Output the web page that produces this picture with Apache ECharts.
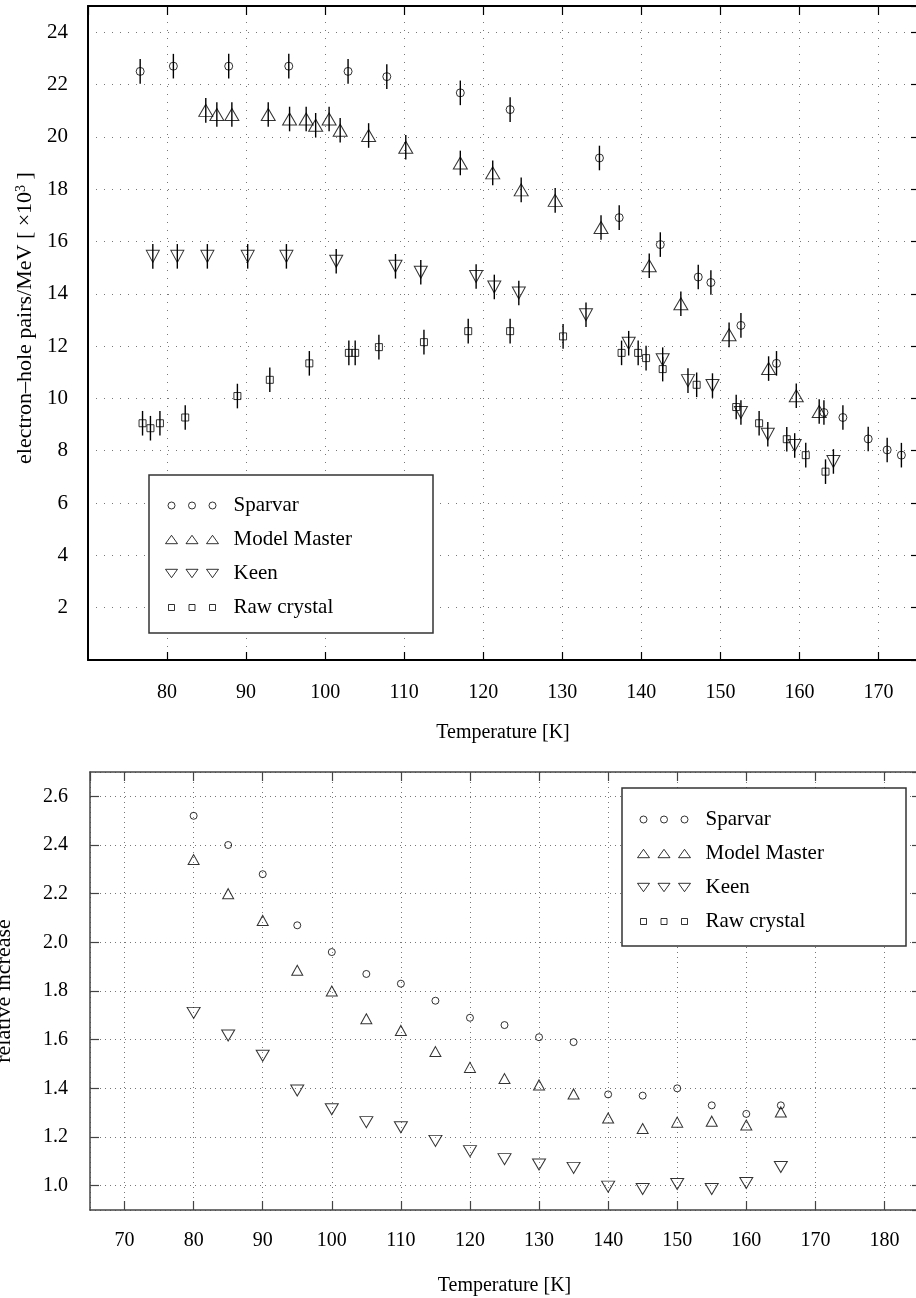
<!DOCTYPE html>
<html>
<head>
<meta charset="utf-8">
<script src="https://cdn.jsdelivr.net/npm/echarts@6/dist/echarts.min.js"></script>
<style>
html, body { margin: 0; padding: 0; background: #fff; }
#chart { width: 916px; height: 1298px; }
</style>
</head>
<body>
<div id="chart"></div>
<script>
// ---------------- DATA ----------------
// Top panel: electron-hole pairs / MeV [x10^3] versus temperature [K]
const sparvarT = [76.6, 80.8, 87.8, 95.4, 102.9, 107.8, 117.1, 123.4, 134.7, 137.2, 142.4, 147.2, 148.8, 152.6, 157.1, 163.1, 165.5, 168.7, 171.1, 172.9];
const sparvarY = [22.5, 22.7, 22.7, 22.7, 22.5, 22.3, 21.68, 21.04, 19.19, 16.91, 15.88, 14.64, 14.43, 12.79, 11.34, 9.46, 9.27, 8.45, 8.03, 7.83];

const modelT = [84.9, 86.3, 88.2, 92.8, 95.5, 97.6, 98.8, 100.5, 101.9, 105.5, 110.2, 117.1, 121.2, 124.8, 129.1, 134.9, 141.0, 145.0, 151.1, 156.1, 159.6, 162.5];
const modelY = [21.01, 20.85, 20.85, 20.85, 20.68, 20.68, 20.44, 20.68, 20.25, 20.05, 19.6, 19.0, 18.62, 17.97, 17.57, 16.53, 15.07, 13.62, 12.43, 11.14, 10.1, 9.5];

const keenT = [78.2, 81.3, 85.1, 90.2, 95.1, 101.4, 108.9, 112.1, 119.1, 121.4, 124.5, 133.0, 138.4, 142.7, 145.9, 149.0, 152.6, 156.0, 159.4, 164.3];
const keenY = [15.43, 15.43, 15.43, 15.43, 15.43, 15.24, 15.05, 14.82, 14.66, 14.26, 14.03, 13.2, 12.11, 11.48, 10.68, 10.49, 9.46, 8.63, 8.2, 7.59];

const rawT = [76.9, 77.9, 79.1, 82.3, 88.9, 93.0, 98.0, 103.0, 103.8, 106.8, 112.5, 118.1, 123.4, 130.1, 137.5, 139.6, 140.6, 142.7, 147.0, 152.0, 154.9, 158.4, 160.8, 163.3];
const rawY = [9.05, 8.86, 9.05, 9.27, 10.09, 10.71, 11.34, 11.74, 11.74, 11.96, 12.15, 12.57, 12.57, 12.37, 11.74, 11.74, 11.54, 11.12, 10.52, 9.67, 9.05, 8.44, 7.83, 7.2];

// half length of the vertical error bars (x10^3 pairs/MeV)
const errHalf = 0.47;

// Bottom panel: relative increase versus temperature [K]
const relT = [80, 85, 90, 95, 100, 105, 110, 115, 120, 125, 130, 135, 140, 145, 150, 155, 160, 165];
const sparvarRel = [2.52, 2.40, 2.28, 2.07, 1.96, 1.87, 1.83, 1.76, 1.69, 1.66, 1.61, 1.59, 1.375, 1.37, 1.40, 1.33, 1.295, 1.33];
const modelRel = [2.34, 2.20, 2.09, 1.885, 1.80, 1.686, 1.638, 1.551, 1.486, 1.44, 1.414, 1.377, 1.278, 1.235, 1.261, 1.265, 1.249, 1.303];
const keenRel = [1.71, 1.617, 1.534, 1.391, 1.314, 1.261, 1.24, 1.184, 1.142, 1.109, 1.087, 1.073, 0.996, 0.986, 1.007, 0.986, 1.011, 1.077];

const seriesNames = ['Sparvar', 'Model Master', 'Keen', 'Raw crystal'];

// ---------------- CHART ----------------
const FONT = 'Liberation Serif';
const chart = echarts.init(document.getElementById('chart'), null, { renderer: 'canvas' });

function pairs(xs, ys) { return xs.map((x, i) => [x, ys[i]]); }

function errorBars(name, xs, ys) {
  return {
    type: 'custom', name: name, xAxisIndex: 0, yAxisIndex: 0, silent: true, z: 1,
    encode: { x: 0, y: 1 },
    data: xs.map((x, i) => [x, ys[i], errHalf]),
    renderItem: function (params, api) {
      const x = api.value(0), y = api.value(1), d = api.value(2);
      const a = api.coord([x, y - d]);
      const b = api.coord([x, y + d]);
      return { type: 'line', shape: { x1: a[0], y1: a[1], x2: b[0], y2: b[1] },
               style: { stroke: '#000', lineWidth: 1.4 } };
    }
  };
}

const hollow = { color: 'rgba(0,0,0,0)', borderColor: '#000', borderWidth: 1 };

// legend icons: three symbols in a 55 x 10 box
const cxs = [7, 27.5, 48];
const box = 'M0,0M55,10';
const legendIcons = {
  'Sparvar': 'path://' + box + cxs.map(c => `M${c - 3.5},5a3.5,3.5 0 1,0 7,0a3.5,3.5 0 1,0 -7,0Z`).join(''),
  'Model Master': 'path://' + box + cxs.map(c => `M${c},0.8L${c + 6},9.2L${c - 6},9.2Z`).join(''),
  'Keen': 'path://' + box + cxs.map(c => `M${c - 6},0.8L${c + 6},0.8L${c},9.2Z`).join(''),
  'Raw crystal': 'path://' + box + cxs.map(c => `M${c - 3},2L${c + 3},2L${c + 3},8L${c - 3},8Z`).join('')
};

function legendAt(left, top) {
  return {
    orient: 'vertical', left: left, top: top, padding: 0, itemGap: 13,
    itemWidth: 55, itemHeight: 10, selectedMode: false, z: 6,
    data: seriesNames.map(n => ({ name: n, icon: legendIcons[n] })),
    itemStyle: { color: 'rgba(0,0,0,0)', borderColor: '#000', borderWidth: 1 },
    textStyle: { fontFamily: FONT, fontSize: 21, color: '#000', padding: [0, 0, 0, 9] }
  };
}

const dottedTop = { color: '#777', width: 1, type: [1, 7] };
const dottedBot = { color: '#777', width: 1, type: [1, 4] };

const option = {
  animation: false,
  backgroundColor: '#fff',
  textStyle: { fontFamily: FONT },
  grid: [
    { left: 88, top: 6, right: -2, height: 654, containLabel: false, outerBoundsMode: 'none' },
    { left: 90, top: 772, right: -3, height: 438, containLabel: false, outerBoundsMode: 'none' }
  ],
  xAxis: [
    { gridIndex: 0, type: 'value', min: 70, max: 175, interval: 10,
      axisLine: { onZero: false, lineStyle: { color: '#000', width: 2 } },
      axisTick: { inside: true, length: 8, lineStyle: { color: '#000', width: 1.2 } },
      axisLabel: { fontFamily: FONT, fontSize: 20, color: '#000', margin: 23, showMinLabel: false, showMaxLabel: false },
      splitLine: { show: true, lineStyle: dottedTop },
      name: 'Temperature [K]', nameLocation: 'middle', nameGap: 63,
      nameTextStyle: { fontFamily: FONT, fontSize: 20, color: '#000' } },
    { gridIndex: 0, type: 'value', position: 'top', min: 70, max: 175, interval: 10,
      axisLine: { onZero: false, lineStyle: { color: '#000', width: 2 } },
      axisTick: { inside: true, length: 9, lineStyle: { color: '#000', width: 1.2 } },
      axisLabel: { show: false }, splitLine: { show: false } },
    { gridIndex: 1, type: 'value', min: 65, max: 185, minInterval: 10, maxInterval: 10,
      axisLine: { onZero: false, lineStyle: { color: '#444', width: 1.5 } },
      axisTick: { inside: true, length: 9, lineStyle: { color: '#444', width: 1.2 } },
      axisLabel: { fontFamily: FONT, fontSize: 20, color: '#000', margin: 21, showMinLabel: false, showMaxLabel: false },
      splitLine: { show: true, lineStyle: dottedBot },
      name: 'Temperature [K]', nameLocation: 'middle', nameGap: 66,
      nameTextStyle: { fontFamily: FONT, fontSize: 20, color: '#000' } },
    { gridIndex: 1, type: 'value', position: 'top', min: 65, max: 185, minInterval: 10, maxInterval: 10,
      axisLine: { onZero: false, lineStyle: { color: '#444', width: 1.5 } },
      axisTick: { inside: true, length: 9, lineStyle: { color: '#444', width: 1.2 } },
      axisLabel: { show: false }, splitLine: { show: false } }
  ],
  yAxis: [
    { gridIndex: 0, type: 'value', min: 0, max: 25, interval: 2,
      axisLine: { onZero: false, lineStyle: { color: '#000', width: 2 } },
      axisTick: { show: false },
      axisLabel: { fontFamily: FONT, fontSize: 21, color: '#000', margin: 20, showMinLabel: false, showMaxLabel: false },
      splitLine: { show: true, lineStyle: dottedTop },
      name: 'electron–hole pairs/MeV [ ×10{sup|3} ]', nameLocation: 'middle', nameGap: 50,
      nameTextStyle: { fontFamily: FONT, fontSize: 22, color: '#000', padding: [0, 0, 0, 30],
        rich: { sup: { fontFamily: FONT, fontSize: 14, color: '#000', verticalAlign: 'top', lineHeight: 22 } } } },
    { gridIndex: 0, type: 'value', position: 'right', min: 0, max: 25, interval: 2,
      axisLine: { onZero: false, lineStyle: { color: '#000', width: 2 } },
      axisTick: { inside: true, length: 7, lineStyle: { color: '#000', width: 1.2 } },
      axisLabel: { show: false }, splitLine: { show: false } },
    { gridIndex: 1, type: 'value', min: 0.9, max: 2.7, minInterval: 0.2, maxInterval: 0.2,
      axisLine: { onZero: false, lineStyle: { color: '#444', width: 1.5 } },
      axisTick: { inside: true, length: 9, lineStyle: { color: '#444', width: 1.2 } },
      axisLabel: { fontFamily: FONT, fontSize: 20, color: '#000', margin: 22, showMinLabel: false, showMaxLabel: false,
        formatter: v => v.toFixed(1) },
      splitLine: { show: true, lineStyle: dottedBot },
      name: 'relative increase', nameLocation: 'middle', nameGap: 75,
      nameTextStyle: { fontFamily: FONT, fontSize: 22, color: '#000' } },
    { gridIndex: 1, type: 'value', position: 'right', min: 0.9, max: 2.7, minInterval: 0.2, maxInterval: 0.2,
      axisLine: { onZero: false, lineStyle: { color: '#444', width: 1.5 } },
      axisTick: { inside: true, length: 7, lineStyle: { color: '#444', width: 1.2 } },
      axisLabel: { show: false }, splitLine: { show: false } }
  ],
  legend: [legendAt(164, 495), legendAt(636, 809)],
  graphic: [
    { type: 'rect', z: 3, shape: { x: 149, y: 475, width: 284, height: 158 },
      style: { fill: '#fff', stroke: '#333', lineWidth: 1.5 } },
    { type: 'rect', z: 3, shape: { x: 622, y: 788, width: 284, height: 158 },
      style: { fill: '#fff', stroke: '#333', lineWidth: 1.5 } }
  ],
  series: [
    // top panel markers
    { type: 'scatter', name: 'Sparvar', xAxisIndex: 0, yAxisIndex: 0, data: pairs(sparvarT, sparvarY),
      symbol: 'circle', symbolSize: 8, itemStyle: hollow, z: 2 },
    { type: 'scatter', name: 'Model Master', xAxisIndex: 0, yAxisIndex: 0, data: pairs(modelT, modelY),
      symbol: 'triangle', symbolSize: [14, 12], itemStyle: hollow, z: 2 },
    { type: 'scatter', name: 'Keen', xAxisIndex: 0, yAxisIndex: 0, data: pairs(keenT, keenY),
      symbol: 'triangle', symbolRotate: 180, symbolSize: [13, 12], itemStyle: hollow, z: 2 },
    { type: 'scatter', name: 'Raw crystal', xAxisIndex: 0, yAxisIndex: 0, data: pairs(rawT, rawY),
      symbol: 'rect', symbolSize: 7, itemStyle: hollow, z: 2 },
    // top panel error bars
    errorBars('Sparvar', sparvarT, sparvarY),
    errorBars('Model Master', modelT, modelY),
    errorBars('Keen', keenT, keenY),
    errorBars('Raw crystal', rawT, rawY),
    // bottom panel
    { type: 'scatter', name: 'Sparvar', xAxisIndex: 2, yAxisIndex: 2, data: pairs(relT, sparvarRel),
      symbol: 'circle', symbolSize: 7, itemStyle: hollow, z: 2 },
    { type: 'scatter', name: 'Model Master', xAxisIndex: 2, yAxisIndex: 2, data: pairs(relT, modelRel),
      symbol: 'triangle', symbolSize: [11, 10], itemStyle: hollow, z: 2 },
    { type: 'scatter', name: 'Keen', xAxisIndex: 2, yAxisIndex: 2, data: pairs(relT, keenRel),
      symbol: 'triangle', symbolRotate: 180, symbolSize: [13, 11], itemStyle: hollow, z: 2 }
  ]
};

chart.setOption(option);
</script>
</body>
</html>
